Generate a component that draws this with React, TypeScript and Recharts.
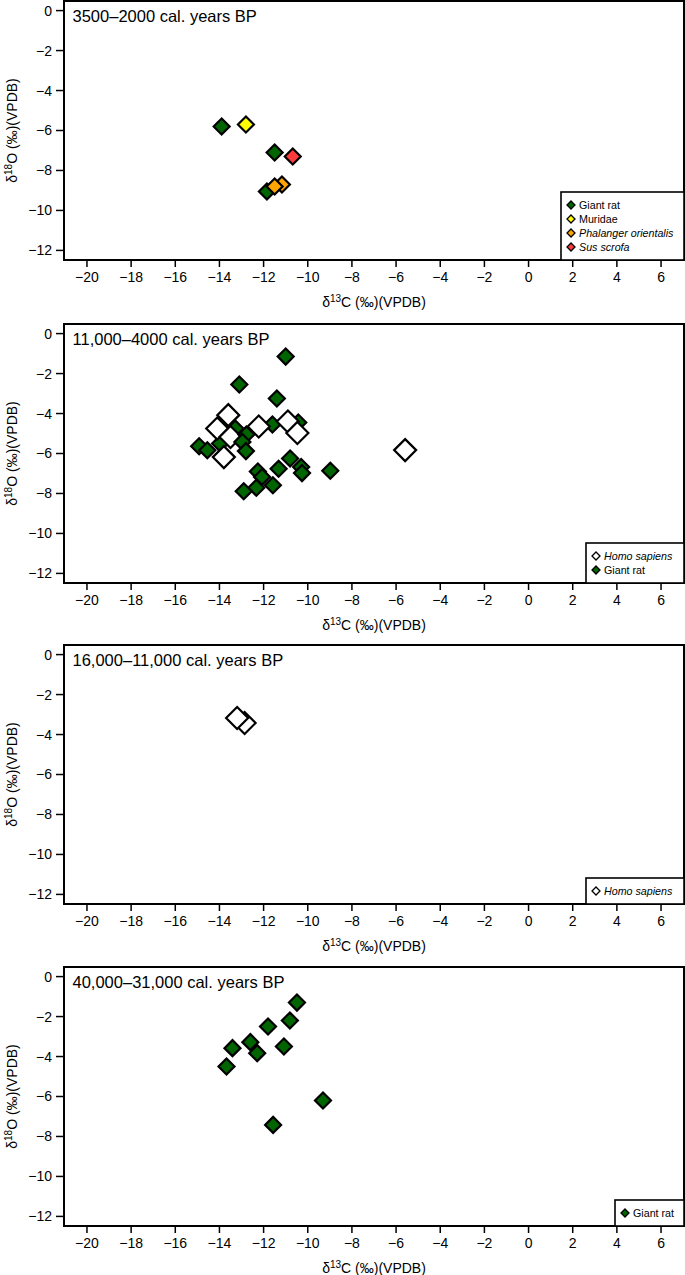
import React from 'react'
import { ScatterChart, Scatter, XAxis, YAxis, ReferenceArea } from 'recharts'

type Pt = { x: number; y: number }

// δ13C (x) / δ18O (y), ‰ VPDB

// 3500–2000 cal. years BP
const lateGiantRat: Pt[] = [
  { x: -13.9, y: -5.8 },
  { x: -11.5, y: -7.1 },
  { x: -11.85, y: -9.05 },
]
const lateMuridae: Pt[] = [{ x: -12.8, y: -5.7 }]
const latePhalanger: Pt[] = [
  { x: -11.17, y: -8.7 },
  { x: -11.5, y: -8.8 },
]
const lateSus: Pt[] = [{ x: -10.68, y: -7.3 }]

// 11,000–4000 cal. years BP
const midGiantRatBehind: Pt[] = [
  { x: -11.6, y: -4.55 },
  { x: -10.43, y: -4.45 },
  { x: -13.28, y: -4.75 },
  { x: -13.97, y: -5.5 },
]
const midHuman: Pt[] = [
  { x: -13.6, y: -4.08 },
  { x: -14.1, y: -4.75 },
  { x: -13.5, y: -5.17 },
  { x: -13.8, y: -6.18 },
  { x: -12.22, y: -4.65 },
  { x: -10.9, y: -4.4 },
  { x: -10.47, y: -4.97 },
  { x: -5.59, y: -5.83 },
]
const midGiantRat: Pt[] = [
  { x: -11.0, y: -1.15 },
  { x: -13.1, y: -2.55 },
  { x: -11.4, y: -3.25 },
  { x: -12.78, y: -5.05 },
  { x: -12.96, y: -5.42 },
  { x: -14.92, y: -5.64 },
  { x: -14.55, y: -5.84 },
  { x: -12.8, y: -5.88 },
  { x: -10.8, y: -6.25 },
  { x: -11.32, y: -6.76 },
  { x: -10.3, y: -6.68 },
  { x: -10.26, y: -6.98 },
  { x: -8.98, y: -6.86 },
  { x: -12.26, y: -6.9 },
  { x: -12.07, y: -7.17 },
  { x: -11.58, y: -7.59 },
  { x: -12.33, y: -7.71 },
  { x: -12.9, y: -7.89 },
]

// 16,000–11,000 cal. years BP
const earlyHuman: Pt[] = [
  { x: -12.86, y: -3.42 },
  { x: -13.2, y: -3.17 },
]

// 40,000–31,000 cal. years BP
const oldGiantRat: Pt[] = [
  { x: -10.49, y: -1.3 },
  { x: -10.81, y: -2.2 },
  { x: -11.8, y: -2.5 },
  { x: -12.6, y: -3.28 },
  { x: -13.41, y: -3.58 },
  { x: -11.08, y: -3.5 },
  { x: -12.29, y: -3.83 },
  { x: -13.68, y: -4.5 },
  { x: -9.31, y: -6.2 },
  { x: -11.57, y: -7.42 },
]

const xTicks = [-20, -18, -16, -14, -12, -10, -8, -6, -4, -2, 0, 2, 4, 6]
const yTicks = [0, -2, -4, -6, -8, -10, -12]

const FONT = '"Liberation Sans", Arial, Helvetica, sans-serif'
const GREEN = '#006400'
const YELLOW = '#ffff00'
const ORANGE = '#ffa500'
const RED = '#ff3b3b'
const WHITE = '#ffffff'

const X_DOMAIN: [number, number] = [-21.04, 7.04]
const Y_DOMAIN: [number, number] = [-12.48, 0.48]

const W = 685
const H = 310
const PLOT_LEFT = 64
const PLOT_TOP = 1
const PLOT_BOTTOM = 260

interface Series {
  data: Pt[]
  fill: string
  r: number
}
interface LegendItem {
  name: string
  fill: string
  italic?: boolean
}
interface Panel {
  title: string
  top: number
  series: Series[]
  legend: LegendItem[]
  legendLeft: number
}

const panels: Panel[] = [
  {
    title: '3500–2000 cal. years BP',
    top: 0,
    series: [
      { data: lateGiantRat, fill: GREEN, r: 8 },
      { data: lateMuridae, fill: YELLOW, r: 8 },
      { data: latePhalanger, fill: ORANGE, r: 8 },
      { data: lateSus, fill: RED, r: 8 },
    ],
    legend: [
      { name: 'Giant rat', fill: GREEN },
      { name: 'Muridae', fill: YELLOW },
      { name: 'Phalanger orientalis', fill: ORANGE, italic: true },
      { name: 'Sus scrofa', fill: RED, italic: true },
    ],
    legendLeft: 561,
  },
  {
    title: '11,000–4000 cal. years BP',
    top: 323,
    series: [
      { data: midGiantRatBehind, fill: GREEN, r: 8 },
      { data: midHuman, fill: WHITE, r: 11 },
      { data: midGiantRat, fill: GREEN, r: 8 },
    ],
    legend: [
      { name: 'Homo sapiens', fill: WHITE, italic: true },
      { name: 'Giant rat', fill: GREEN },
    ],
    legendLeft: 586,
  },
  {
    title: '16,000–11,000 cal. years BP',
    top: 644,
    series: [{ data: earlyHuman, fill: WHITE, r: 11 }],
    legend: [{ name: 'Homo sapiens', fill: WHITE, italic: true }],
    legendLeft: 586,
  },
  {
    title: '40,000–31,000 cal. years BP',
    top: 966,
    series: [{ data: oldGiantRat, fill: GREEN, r: 8 }],
    legend: [{ name: 'Giant rat', fill: GREEN }],
    legendLeft: 615,
  },
]

const diamondPath = (cx: number, cy: number, r: number) =>
  `M${cx},${cy - r}L${cx + r},${cy}L${cx},${cy + r}L${cx - r},${cy}Z`

const makeShape = (fill: string, r: number) => (props: any) => {
  const { cx, cy } = props
  if (cx == null || cy == null) return <g />
  return <path d={diamondPath(cx, cy, r)} fill={fill} stroke="#000" strokeWidth={2.2} strokeLinejoin="miter" />
}

const minus = (v: number) => String(v).replace('-', '\u2212')

function Overlay({ panel }: { panel: Panel }) {
  const rowH = 14
  const legendH = 12 + panel.legend.length * rowH
  const legendTop = PLOT_BOTTOM - legendH
  const legendW = 684 - panel.legendLeft
  const plotMid = (PLOT_LEFT + 684) / 2
  return (
    <svg
      width={W}
      height={H}
      style={{ position: 'absolute', left: 0, top: 0, pointerEvents: 'none', fontFamily: FONT }}
    >
      <text x={72.5} y={22} fontSize={16.5} fill="#000">
        {panel.title}
      </text>

      <text x={plotMid} y={PLOT_BOTTOM + 47} fontSize={14} textAnchor="middle" fill="#000">
        δ<tspan dy={-5} fontSize={10}>13</tspan>
        <tspan dy={5}>C (‰)(VPDB)</tspan>
      </text>

      <text
        transform={`translate(17, ${(PLOT_TOP + PLOT_BOTTOM) / 2}) rotate(-90)`}
        fontSize={14}
        textAnchor="middle"
        fill="#000"
      >
        δ<tspan dy={-5} fontSize={10}>18</tspan>
        <tspan dy={5}>O (‰)(VPDB)</tspan>
      </text>

      <rect
        x={panel.legendLeft}
        y={legendTop}
        width={legendW}
        height={legendH}
        fill="#fff"
        stroke="#000"
        strokeWidth={1.6}
      />
      {panel.legend.map((item, i) => {
        const cy = legendTop + 13 + i * rowH
        const cx = panel.legendLeft + 10
        return (
          <g key={item.name}>
            <path d={diamondPath(cx, cy, 4)} fill={item.fill} stroke="#000" strokeWidth={1.3} />
            <text
              x={panel.legendLeft + 18}
              y={cy + 3.8}
              fontSize={10.7}
              fontStyle={item.italic ? 'italic' : 'normal'}
              fill="#000"
            >
              {item.name}
            </text>
          </g>
        )
      })}
    </svg>
  )
}

function PanelChart({ panel }: { panel: Panel }) {
  return (
    <div style={{ position: 'absolute', left: 0, top: panel.top, width: W, height: H }}>
      <ScatterChart width={W} height={H} margin={{ top: PLOT_TOP, right: 1, bottom: 0, left: 0 }}>
        <XAxis
          type="number"
          dataKey="x"
          domain={X_DOMAIN}
          ticks={xTicks}
          allowDataOverflow
          height={50}
          axisLine={false}
          tickLine={{ stroke: '#000', strokeWidth: 1.5 }}
          tickSize={7}
          tickMargin={5}
          tick={{ fill: '#000', fontSize: 14, fontFamily: FONT }}
          tickFormatter={minus}
          interval={0}
        />
        <YAxis
          type="number"
          dataKey="y"
          domain={Y_DOMAIN}
          ticks={yTicks}
          allowDataOverflow
          width={PLOT_LEFT}
          axisLine={false}
          tickLine={{ stroke: '#000', strokeWidth: 1.5 }}
          tickSize={8}
          tickMargin={4}
          tick={{ fill: '#000', fontSize: 14, fontFamily: FONT }}
          tickFormatter={minus}
          interval={0}
        />
        <ReferenceArea
          x1={X_DOMAIN[0]}
          x2={X_DOMAIN[1]}
          y1={Y_DOMAIN[0]}
          y2={Y_DOMAIN[1]}
          fill="none"
          fillOpacity={0}
          stroke="#000"
          strokeWidth={2}
          ifOverflow="visible"
        />
        {panel.series.map((s, i) => (
          <Scatter key={i} data={s.data} shape={makeShape(s.fill, s.r)} isAnimationActive={false} />
        ))}
      </ScatterChart>
      <Overlay panel={panel} />
    </div>
  )
}

export default function App() {
  return (
    <div
      style={{
        position: 'absolute',
        left: 0,
        top: 0,
        width: W,
        height: 1275,
        background: '#fff',
        fontFamily: FONT,
      }}
    >
      {panels.map((p) => (
        <PanelChart key={p.title} panel={p} />
      ))}
    </div>
  )
}
